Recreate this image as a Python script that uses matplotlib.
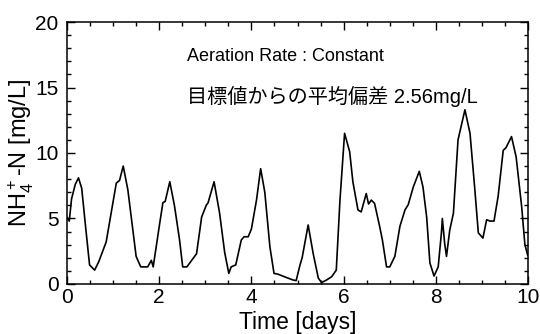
import matplotlib
matplotlib.use('Agg')
import matplotlib.pyplot as plt
from matplotlib.ticker import MultipleLocator

plt.rcParams['font.family'] = ['Liberation Sans', 'Noto Sans CJK JP', 'DejaVu Sans']
plt.rcParams['mathtext.default'] = 'regular'

# NH4-N concentration (days, mg/L)
days = [0.0, 0.05, 0.1, 0.18, 0.25, 0.32, 0.4, 0.49, 0.6, 0.69, 0.85, 1.07, 1.14, 1.22,
        1.32, 1.5, 1.6, 1.75, 1.83, 1.87, 2.01, 2.08, 2.13, 2.23, 2.33, 2.44, 2.51, 2.6,
        2.81, 2.92, 3.02, 3.06, 3.19, 3.31, 3.42, 3.51, 3.56, 3.66, 3.78, 3.84, 3.93, 4.0,
        4.11, 4.2, 4.29, 4.4, 4.49, 4.57, 4.75, 4.9, 4.97, 5.05, 5.1, 5.23, 5.34, 5.45,
        5.52, 5.63, 5.74, 5.84, 5.92, 6.02, 6.13, 6.2, 6.31, 6.38, 6.49, 6.54, 6.6, 6.67,
        6.78, 6.84, 6.93, 7.0, 7.11, 7.22, 7.33, 7.4, 7.51, 7.64, 7.72, 7.8, 7.87, 7.96,
        8.05, 8.12, 8.14, 8.19, 8.23, 8.3, 8.38, 8.48, 8.63, 8.74, 8.84, 8.92, 9.02, 9.1,
        9.17, 9.26, 9.35, 9.46, 9.52, 9.64, 9.74, 9.86, 9.93, 9.99]
nh4 = [5.1, 4.8, 6.5, 7.6, 8.1, 7.3, 4.5, 1.45, 1.05, 1.7, 3.2, 7.7, 7.9, 9.0,
       7.2, 2.1, 1.3, 1.3, 1.8, 1.3, 4.6, 6.2, 6.3, 7.8, 6.0, 3.4, 1.3, 1.3,
       2.3, 5.1, 6.0, 6.2, 7.8, 5.4, 2.4, 0.8, 1.3, 1.45, 3.35, 3.6, 3.6, 4.2,
       6.4, 8.8, 7.0, 2.85, 0.8, 0.75, 0.5, 0.3, 0.25, 1.4, 2.0, 4.5, 2.3, 0.45,
       0.1, 0.3, 0.55, 1.05, 6.4, 11.5, 10.1, 7.8, 5.65, 5.5, 6.9, 6.1, 6.4, 6.15,
       4.4, 3.35, 1.3, 1.3, 2.1, 4.4, 5.65, 6.05, 7.4, 8.6, 7.4, 5.1, 1.6, 0.6,
       1.3, 3.9, 5.0, 3.1, 2.1, 4.1, 5.4, 11.0, 13.3, 11.5, 7.4, 3.9, 3.5, 4.9,
       4.8, 4.8, 6.7, 10.2, 10.4, 11.25, 9.7, 5.9, 3.0, 2.2]

fig = plt.figure(figsize=(5.4, 3.34), dpi=100)
ax = fig.add_axes([0.124, 0.150, 0.854, 0.784])

ax.plot(days, nh4, color='black', lw=1.2)

ax.set_xlim(0, 10)
ax.set_ylim(0, 20)
ax.xaxis.set_major_locator(MultipleLocator(2))
ax.xaxis.set_minor_locator(MultipleLocator(0.5))
ax.yaxis.set_major_locator(MultipleLocator(5))
ax.yaxis.set_minor_locator(MultipleLocator(1))
ax.tick_params(which='both', direction='in', top=True, right=True, labelsize=15, width=1)
ax.tick_params(which='major', length=6)
ax.tick_params(which='minor', length=3)
ax.tick_params(axis='x', pad=3)
ax.tick_params(axis='y', pad=6)
for s in ax.spines.values():
    s.set_linewidth(1.1)

ax.set_xlabel('Time [days]', fontsize=16.5, va='center')
ax.xaxis.set_label_coords(0.5, -0.148)
ax.set_ylabel('NH$_4^+$-N [mg/L]', fontsize=17, va='center')
ax.yaxis.set_label_coords(-0.10, 0.5)

ax.text(2.6, 17.4, 'Aeration Rate : Constant', fontsize=13, va='center')
ax.text(2.6, 14.35, '目標値からの平均偏差 2.56mg/L', fontsize=14.5, va='center',
        family=['Liberation Sans', 'Noto Sans CJK JP'])

fig.savefig('out.png', dpi=100)
